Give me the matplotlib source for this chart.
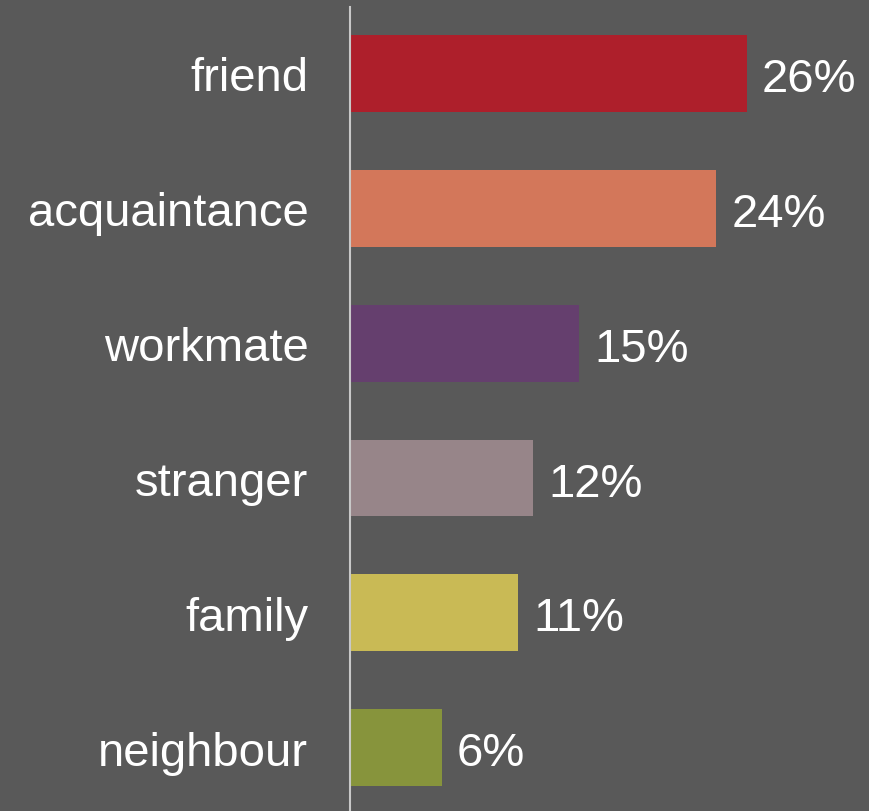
import matplotlib.pyplot as plt

categories = ["friend", "acquaintance", "workmate", "stranger", "family", "neighbour"]
shares = [26, 24, 15, 12, 11, 6]
value_labels = ["26%", "24%", "15%", "12%", "11%", "6%"]
colors = ["#AE1F2B", "#D3775A", "#653F6E", "#978589", "#C9BA55", "#87943C"]

bg = "#595959"
plt.rcParams["font.family"] = ["Liberation Sans", "DejaVu Sans"]

fig = plt.figure(figsize=(8.69, 8.12), dpi=100, facecolor=bg)
ax = fig.add_axes([350 / 869, 0, 519 / 869, 1 - 8 / 812])
ax.set_facecolor(bg)

pos = list(range(len(categories)))
ax.barh(pos, shares, height=0.57, color=colors)

# percentage labels just right of each bar end
for p, v, lab in zip(pos, shares, value_labels):
    ax.annotate(lab, (v, p), xytext=(11, -4), textcoords="offset points",
                va="center", ha="left", color="white", fontsize=34)

ax.set_xlim(0, 519 / 15.25)
ax.set_ylim(5.47, -0.493)
ax.set_yticks(pos)
ax.set_yticklabels(categories, fontsize=34, color="white")
ax.tick_params(axis="y", length=0, pad=30)
ax.set_xticks([])

for side in ["top", "right", "bottom"]:
    ax.spines[side].set_visible(False)
ax.spines["left"].set_color("#C8C8C8")
ax.spines["left"].set_linewidth(1.5)

fig.savefig("out.png", dpi=100, facecolor=bg)
